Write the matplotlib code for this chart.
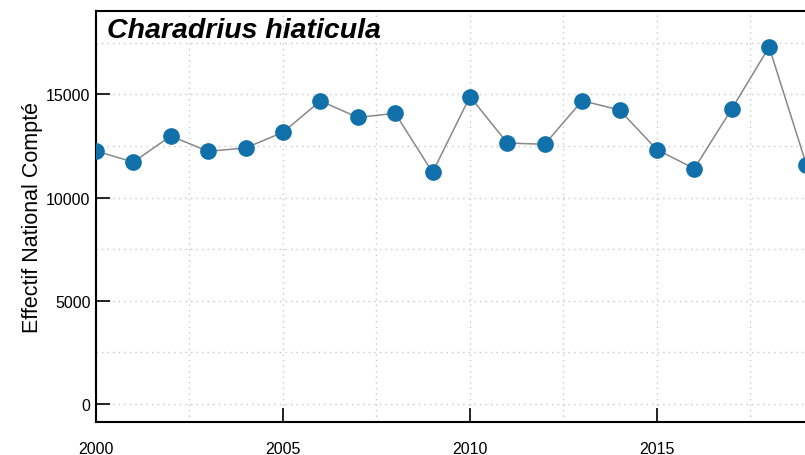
import matplotlib
matplotlib.use("Agg")
import matplotlib.pyplot as plt
from matplotlib.ticker import MultipleLocator

plt.rcParams["font.family"] = ["Liberation Sans", "DejaVu Sans"]

years = list(range(2000, 2020))
counts = [12250, 11720, 12980, 12240, 12400, 13160, 14680, 13880, 14080, 11220,
          14890, 12640, 12580, 14690, 14240, 12320, 11400, 14290, 17290, 11580]
species = "Charadrius hiaticula"

fig = plt.figure(figsize=(8.05, 4.56), dpi=100)
ax = fig.add_axes([96 / 805, (456 - 423.3) / 456, 1 - 96 / 805, (423.3 - 11.7) / 456])

ax.plot(years, counts, color="#888888", lw=1.1, zorder=2)
ax.plot(years, counts, "o", color="#1170aa", ms=11, zorder=3)

ax.set_xlim(2000, 2018.96)
ax.set_ylim(-886, 19050)
ax.xaxis.set_major_locator(MultipleLocator(5))
ax.xaxis.set_minor_locator(MultipleLocator(2.5))
ax.yaxis.set_major_locator(MultipleLocator(5000))
ax.yaxis.set_minor_locator(MultipleLocator(2500))
ax.tick_params(which="major", direction="in", length=10, width=1.2, labelsize=11.5)
ax.tick_params(which="minor", length=0)
ax.tick_params(axis="x", pad=13.5)
ax.tick_params(axis="y", pad=4)
ax.grid(which="both", color="#c8c8c8", linestyle=(0, (1, 3)), lw=1)
ax.set_axisbelow(True)

for s in ["left", "bottom", "top"]:
    ax.spines[s].set_linewidth(1.5)
ax.spines["right"].set_visible(False)

ax.set_ylabel("Effectif National Compté", fontsize=15.5, labelpad=2)
ax.text(0.016, 0.985, species, transform=ax.transAxes, fontsize=20.5,
        fontweight="bold", fontstyle="italic", va="top", ha="left")

fig.savefig("out.png", dpi=100)
